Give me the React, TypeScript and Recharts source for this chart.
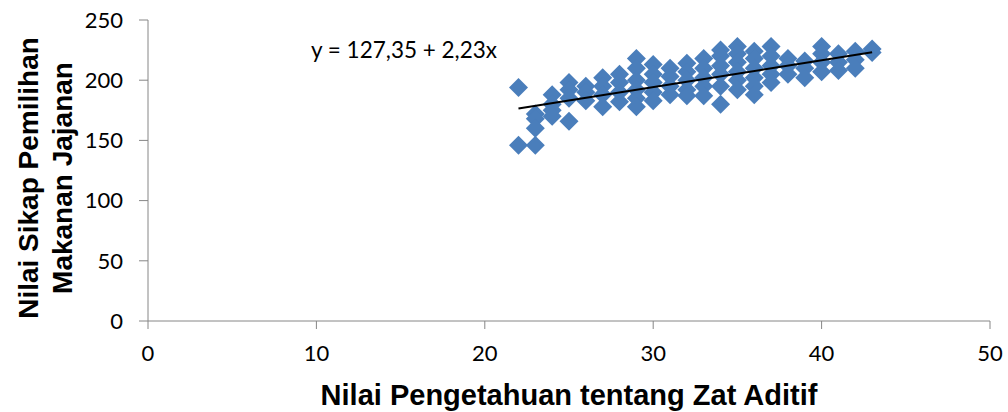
import React from "react"
import { ScatterChart, Scatter, XAxis, YAxis } from "recharts"

// pengetahuan (x) and sikap (y) scores per respondent
const pengetahuan = [
  22, 22,
  23, 23, 23, 23,
  24, 24, 24, 24,
  25, 25, 25, 25,
  26, 26, 26,
  27, 27, 27, 27,
  28, 28, 28, 28,
  29, 29, 29, 29, 29, 29,
  30, 30, 30, 30, 30,
  31, 31, 31, 31,
  32, 32, 32, 32, 32,
  33, 33, 33, 33, 33,
  34, 34, 34, 34, 34, 34,
  35, 35, 35, 35, 35, 35,
  36, 36, 36, 36, 36, 36,
  37, 37, 37, 37, 37,
  38, 38, 38,
  39, 39, 39,
  40, 40, 40, 40,
  41, 41, 41,
  42, 42, 42,
  43, 43,
]

const sikap = [
  194, 146,
  172, 168, 160, 146,
  188, 180, 175, 170,
  198, 192, 185, 166,
  195, 190, 183,
  202, 195, 188, 178,
  205, 198, 190, 182,
  218, 210, 200, 192, 185, 178,
  213, 205, 198, 190, 183,
  210, 203, 195, 188,
  214, 207, 200, 192, 187,
  218, 210, 202, 195, 187,
  225, 220, 212, 205, 195, 180,
  228, 222, 215, 207, 200, 192,
  224, 218, 210, 202, 195, 188,
  228, 220, 212, 205, 198,
  218, 212, 205,
  216, 210, 202,
  228, 222, 215, 207,
  222, 215, 208,
  224, 217, 210,
  226, 223,
]

const intercept = 127.35
const slope = 2.23
const xTicks = [0, 10, 20, 30, 40, 50]
const yTicks = [0, 50, 100, 150, 200, 250]

const points = pengetahuan.map((x, i) => ({ x, y: sikap[i] }))
const xMin = Math.min(...pengetahuan)
const xMax = Math.max(...pengetahuan)
// linear trend from the smallest to the largest x
const trend = [
  { x: xMin, y: intercept + slope * xMin },
  { x: xMax, y: intercept + slope * xMax },
]

const titleFont = "'Liberation Sans', Arial, sans-serif"
const bodyFont = "Lato, 'Open Sans', sans-serif"
const axisGray = "#868686"

const Diamond = (props: any) => {
  const { cx, cy } = props
  const r = 9.5
  return (
    <polygon
      points={`${cx},${cy - r} ${cx + r},${cy} ${cx},${cy + r} ${cx - r},${cy}`}
      fill="#4A7EBB"
    />
  )
}

const YTitle = () => (
  <text
    transform="translate(45, 178) rotate(-90)"
    textAnchor="middle"
    fontFamily={titleFont}
    fontWeight="bold"
    fontSize={28}
    fill="#000"
  >
    <tspan x={0} dy={-7}>Nilai Sikap Pemilihan</tspan>
    <tspan x={0} dy={34}>Makanan Jajanan</tspan>
  </text>
)

export default function App() {
  return (
    <div style={{ position: "absolute", left: 0, top: 0, width: 1008, height: 412, background: "#fff" }}>
      <ScatterChart width={1008} height={412} margin={{ top: 20, right: 18, bottom: 0, left: 0 }}>
        <XAxis
          type="number"
          dataKey="x"
          domain={[0, 50]}
          ticks={xTicks}
          height={91}
          stroke={axisGray}
          tickSize={8}
          tickMargin={16}
          tick={{ fill: "#000", fontSize: 22, fontFamily: bodyFont }}
          label={{
            value: "Nilai Pengetahuan tentang Zat Aditif",
            position: "insideBottom",
            offset: 7,
            fill: "#000",
            fontSize: 29,
            fontWeight: "bold",
            fontFamily: titleFont,
          }}
        />
        <YAxis
          type="number"
          dataKey="y"
          domain={[0, 250]}
          ticks={yTicks}
          width={148}
          stroke={axisGray}
          tickSize={9}
          tickMargin={16}
          tick={{ fill: "#000", fontSize: 22, fontFamily: bodyFont }}
          label={{ content: () => <YTitle /> }}
        />
        <Scatter data={points} shape={<Diamond />} isAnimationActive={false} />
        <Scatter
          data={trend}
          line={{ stroke: "#000", strokeWidth: 2 }}
          shape={() => null}
          isAnimationActive={false}
        />
      </ScatterChart>
      <div
        style={{
          position: "absolute",
          left: 311,
          top: 36,
          fontFamily: bodyFont,
          fontSize: 22.5,
          color: "#000",
          whiteSpace: "nowrap",
        }}
      >
        y = 127,35 + 2,23x
      </div>
    </div>
  )
}
